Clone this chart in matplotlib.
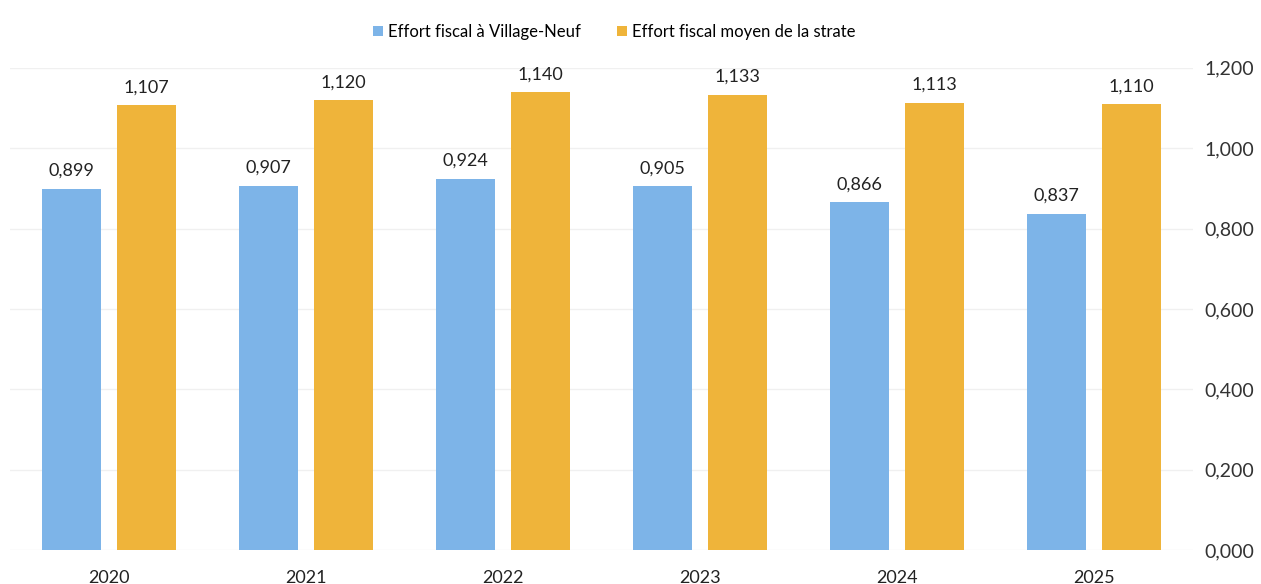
import numpy as np
import matplotlib.pyplot as plt

# données
annees = ['2020', '2021', '2022', '2023', '2024', '2025']
effort_village = [0.899, 0.907, 0.924, 0.905, 0.866, 0.837]
effort_strate = [1.107, 1.120, 1.140, 1.133, 1.113, 1.110]
yticks = [0.0, 0.2, 0.4, 0.6, 0.8, 1.0, 1.2]

plt.rcParams['font.family'] = ['Lato', 'DejaVu Sans']

fig = plt.figure(figsize=(12.61, 5.84), dpi=100)
ax = fig.add_axes([0.008, 0.058, 0.938, 0.826])

x = np.arange(len(annees))
w = 0.3
b1 = ax.bar(x - 0.19, effort_village, w, color='#7DB4E8', label='Effort fiscal à Village-Neuf', zorder=2)
b2 = ax.bar(x + 0.19, effort_strate, w, color='#EFB43A', label='Effort fiscal moyen de la strate', zorder=2)

fmt = lambda v: f'{v:.3f}'.replace('.', ',')
for bars, vals in [(b1, effort_village), (b2, effort_strate)]:
    for r, v in zip(bars, vals):
        ax.annotate(fmt(v), (r.get_x() + r.get_width() / 2, v), xytext=(0, 7),
                    textcoords='offset points', ha='center', va='bottom', fontsize=13, color='#222222')

ax.set_xlim(-0.5, len(annees) - 0.5)
ax.set_ylim(0, 1.2)
ax.yaxis.tick_right()
ax.set_yticks(yticks)
ax.set_yticklabels([fmt(t) for t in yticks], fontsize=14, color='#333333')
ax.set_xticks(x)
ax.set_xticklabels(annees, fontsize=13, color='#222222')
ax.tick_params(length=0, axis='y', pad=8)
ax.tick_params(length=0, axis='x', pad=14)
ax.grid(axis='y', color='#F0F0F0', linewidth=1, zorder=0)
for s in ax.spines.values():
    s.set_visible(False)

fig.legend(loc='upper center', bbox_to_anchor=(0.487, 0.985), ncol=2, frameon=False, fontsize=12,
           handlelength=0.6, handleheight=0.6, handletextpad=0.3, columnspacing=2.2)

plt.savefig('out.png')
